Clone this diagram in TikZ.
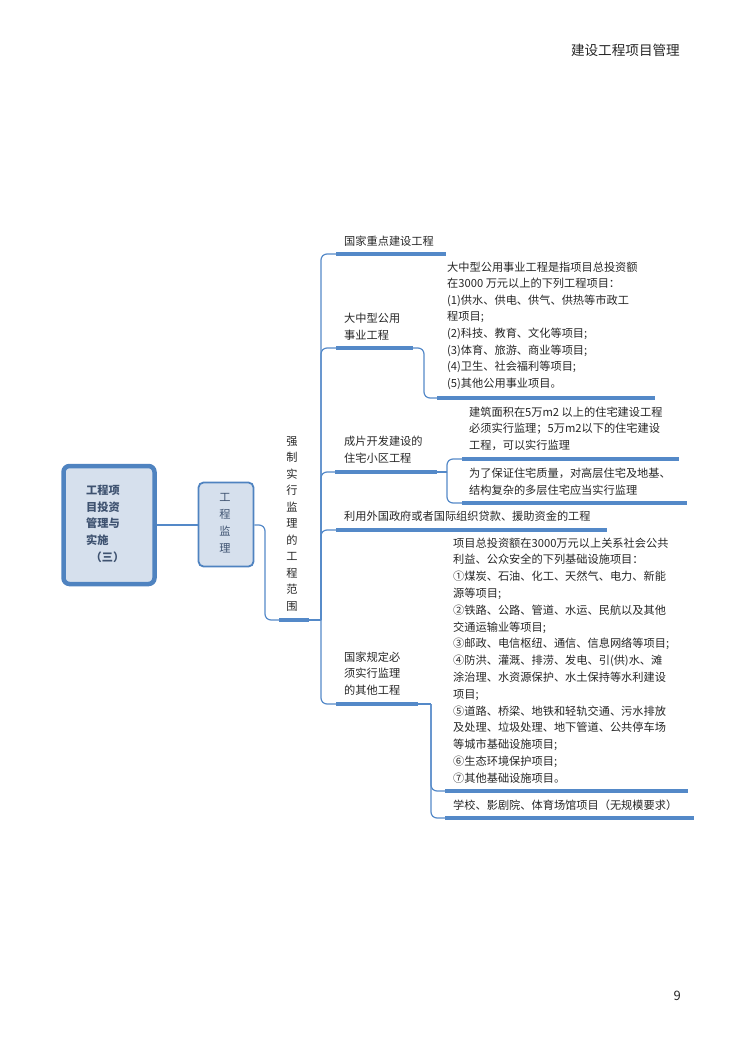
\documentclass[tikz,border=0pt]{standalone}
\usepackage{fontspec}
\setmainfont{Noto Sans CJK SC}
\definecolor{lineblue}{RGB}{84,137,200}
\definecolor{rootborder}{RGB}{79,131,192}
\definecolor{boxfill}{RGB}{214,224,237}
\definecolor{roottext}{RGB}{62,82,112}
\definecolor{bodytext}{RGB}{38,38,38}
\tikzset{
  conn/.style={draw=lineblue,line width=1.2pt,rounded corners=6pt},
  uline/.style={draw=lineblue,line width=3.6pt},
  lbl/.style={anchor=base west,inner sep=0pt,align=left,text=bodytext,font=\fontsize{11.2}{16.6}\selectfont},
}
\begin{document}
\begin{tikzpicture}[x=1pt,y=-1pt]
\useasboundingbox (0,0) rectangle (755,1052);
% header and page number
\node[anchor=base east,inner sep=0pt,text=bodytext,font=\fontsize{13.6}{16}\selectfont] (hdr) at (680,55) {建设工程项目管理};
\node[anchor=base east,inner sep=0pt,text=bodytext,font=\fontsize{13}{16}\selectfont] (pg) at (681,1000) {9};
% root box
\node[draw=rootborder,line width=4.5pt,fill=boxfill,rounded corners=6pt,minimum width=91pt,minimum height=118pt,inner sep=0pt] (root) at (109,525) {};
\node[lbl,text=roottext,font=\bfseries\fontsize{11.2}{16.75}\selectfont] (roott) at (86,561.3) {工程项\\目投资\\管理与\\实施\\\ \,（三）};
% second box
\node[draw=rootborder,line width=1.8pt,fill=boxfill,rounded corners=5pt,minimum width=55pt,minimum height=84pt,inner sep=0pt] (b2) at (226,524.5) {};
\node[anchor=base,inner sep=0pt,align=center,text=roottext,font=\fontsize{11.2}{17}\selectfont] (b2t) at (225,552.3) {工\\程\\监\\理};
\draw[draw=lineblue,line width=1.2pt] (root.east |- 0,525) -- (b2.west |- 0,525);
% vertical label
\node[anchor=base,inner sep=0pt,align=center,text=bodytext,font=\fontsize{11.2}{16.5}\selectfont] (qz) at (292,610.3) {强\\制\\实\\行\\监\\理\\的\\工\\程\\范\\围};
\coordinate (qzL) at (279,620);
\coordinate (qzR) at (309,620);
\draw[uline] (qzL) -- (qzR);
\draw[conn] (b2.east |- 0,525) -- (265,525) -- (265,620) -- (qzL);
\coordinate (spine) at (321,620);
\draw[conn] (qzR) -- (spine);
% branch 1
\coordinate (u1L) at (336,254); \coordinate (u1R) at (446,254);
\draw[uline] (u1L) -- (u1R);
\node[lbl] (t1) at (344,245.3) {国家重点建设工程};
\draw[conn] (spine) |- (u1L);
% branch 2
\coordinate (u2L) at (336,348); \coordinate (u2R) at (413,348);
\draw[uline] (u2L) -- (u2R);
\node[lbl] (t2) at (344,339.3) {大中型公用\\事业工程};
\draw[conn] (spine) |- (u2L);
\coordinate (u2cL) at (437,398); \coordinate (u2cR) at (655,398);
\draw[uline] (u2cL) -- (u2cR);
\node[lbl] (t2c) at (447,387.3) {大中型公用事业工程是指项目总投资额\\在3000 万元以上的下列工程项目：\\(1)供水、供电、供气、供热等市政工\\程项目;\\(2)科技、教育、文化等项目;\\(3)体育、旅游、商业等项目;\\(4)卫生、社会福利等项目;\\(5)其他公用事业项目。};
\draw[conn] (u2R) -- (424,348) |- (u2cL);
% branch 3
\coordinate (u3L) at (335,472); \coordinate (u3R) at (437,472);
\draw[uline] (u3L) -- (u3R);
\node[lbl] (t3) at (344,462.3) {成片开发建设的\\住宅小区工程};
\draw[conn] (spine) |- (u3L);
\coordinate (u3aL) at (462,459); \coordinate (u3aR) at (679,459);
\coordinate (u3bL) at (462,503); \coordinate (u3bR) at (687,503);
\draw[uline] (u3aL) -- (u3aR);
\draw[uline] (u3bL) -- (u3bR);
\node[lbl] (t3a) at (469,449.3) {建筑面积在5万m2 以上的住宅建设工程\\必须实行监理；5万m2以下的住宅建设\\工程，可以实行监理};
\node[lbl] (t3b) at (469,494.3) {为了保证住宅质量，对高层住宅及地基、\\结构复杂的多层住宅应当实行监理};
\coordinate (j3) at (447,472);
\draw[conn] (u3R) -- (j3);
\draw[conn] (j3) |- (u3aL);
\draw[conn] (j3) |- (u3bL);
% branch 4
\coordinate (u4L) at (336,530); \coordinate (u4R) at (607,530);
\draw[uline] (u4L) -- (u4R);
\node[lbl] (t4) at (344,520.3) {利用外国政府或者国际组织贷款、援助资金的工程};
\draw[conn] (spine) |- (u4L);
% branch 5
\coordinate (u5L) at (336,704); \coordinate (u5R) at (418,704);
\draw[uline] (u5L) -- (u5R);
\node[lbl] (t5) at (344,694.3) {国家规定必\\须实行监理\\的其他工程};
\draw[conn] (spine) |- (u5L);
\coordinate (u5aL) at (445,791); \coordinate (u5aR) at (688,791);
\coordinate (u5bL) at (445,818); \coordinate (u5bR) at (694,818);
\draw[uline] (u5aL) -- (u5aR);
\draw[uline] (u5bL) -- (u5bR);
\node[lbl,font=\fontsize{11.2}{16.8}\selectfont] (t5a) at (453,782.3) {项目总投资额在3000万元以上关系社会公共\\利益、公众安全的下列基础设施项目：\\①煤炭、石油、化工、天然气、电力、新能\\源等项目;\\②铁路、公路、管道、水运、民航以及其他\\交通运输业等项目;\\③邮政、电信枢纽、通信、信息网络等项目;\\④防洪、灌溉、排涝、发电、引(供)水、滩\\涂治理、水资源保护、水土保持等水利建设\\项目;\\⑤道路、桥梁、地铁和轻轨交通、污水排放\\及处理、垃圾处理、地下管道、公共停车场\\等城市基础设施项目;\\⑥生态环境保护项目;\\⑦其他基础设施项目。};
\node[lbl] (t5b) at (453,809.3) {学校、影剧院、体育场馆项目（无规模要求）};
\coordinate (j5) at (431,704);
\draw[conn] (u5R) -- (j5);
\draw[conn] (j5) |- (u5aL);
\draw[conn] (j5) |- (u5bL);
\end{tikzpicture}
\end{document}
